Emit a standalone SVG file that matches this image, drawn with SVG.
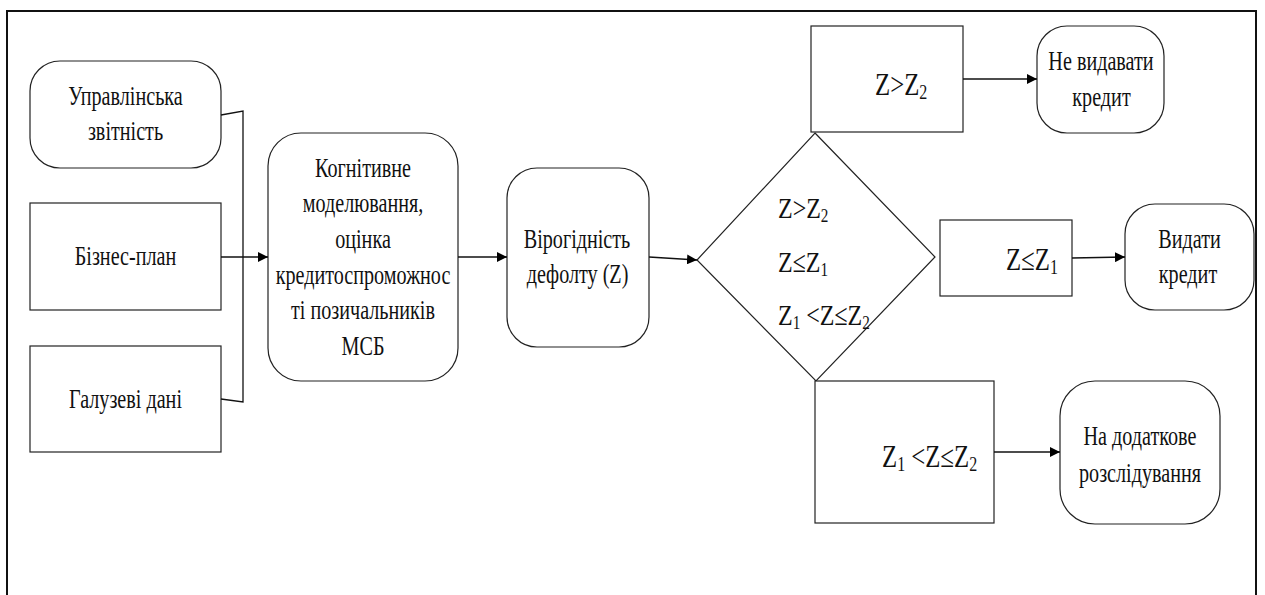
<svg xmlns="http://www.w3.org/2000/svg" width="1265" height="595" viewBox="0 0 1265 595">
<defs>
<style>
.nd{fill:#fff;stroke:#222;stroke-width:1.2}
.cn{fill:none;stroke:#111;stroke-width:1.3}
</style>
<marker id="ah" viewBox="0 0 10 10" refX="10" refY="5" markerWidth="10" markerHeight="10" markerUnits="userSpaceOnUse" orient="auto">
<path d="M0,0 L10,5 L0,10 z" fill="#000"/>
</marker>
</defs>
<rect width="1265" height="595" fill="#fff"/>
<path d="M7,600 V11 H1256 V600" fill="none" stroke="#111" stroke-width="2"/>

<g id="n-upr">
<rect class="nd" x="30" y="61" width="191" height="107" rx="30"/>
<text font-family="'Liberation Serif'" font-size="28" fill="#111" text-anchor="middle" transform="matrix(0.72 0 0 1 125.5 105)">Управлінська</text>
<text font-family="'Liberation Serif'" font-size="28" fill="#111" text-anchor="middle" transform="matrix(0.72 0 0 1 125.5 140)">звітність</text>
</g>
<g id="n-biz">
<rect class="nd" x="30" y="203" width="191" height="107"/>
<text font-family="'Liberation Serif'" font-size="28" fill="#111" text-anchor="middle" transform="matrix(0.72 0 0 1 125.5 265)">Бізнес-план</text>
</g>
<g id="n-gal">
<rect class="nd" x="30" y="346" width="191" height="106"/>
<text font-family="'Liberation Serif'" font-size="28" fill="#111" text-anchor="middle" transform="matrix(0.72 0 0 1 125.5 408)">Галузеві дані</text>
</g>
<g id="n-cog">
<rect class="nd" x="268" y="133" width="190" height="248" rx="33"/>
<text font-family="'Liberation Serif'" font-size="28" fill="#111" text-anchor="middle" transform="matrix(0.72 0 0 1 363 176.5)">Когнітивне</text>
<text font-family="'Liberation Serif'" font-size="28" fill="#111" text-anchor="middle" transform="matrix(0.72 0 0 1 363 212)">моделювання,</text>
<text font-family="'Liberation Serif'" font-size="28" fill="#111" text-anchor="middle" transform="matrix(0.72 0 0 1 363 248)">оцінка</text>
<text font-family="'Liberation Serif'" font-size="28" fill="#111" text-anchor="middle" transform="matrix(0.72 0 0 1 363 284)">кредитоспроможнос</text>
<text font-family="'Liberation Serif'" font-size="28" fill="#111" text-anchor="middle" transform="matrix(0.72 0 0 1 363 319)">ті позичальників</text>
<text font-family="'Liberation Serif'" font-size="28" fill="#111" text-anchor="middle" transform="matrix(0.72 0 0 1 363 355)">МСБ</text>
</g>
<g id="n-vir">
<rect class="nd" x="507" y="168" width="142" height="179" rx="30"/>
<text font-family="'Liberation Serif'" font-size="28" fill="#111" text-anchor="middle" transform="matrix(0.72 0 0 1 577 248)">Вірогідність</text>
<text font-family="'Liberation Serif'" font-size="28" fill="#111" text-anchor="middle" transform="matrix(0.72 0 0 1 577.5 283)">дефолту (Z)</text>
</g>
<g id="n-dia">
<polygon class="nd" points="815,133 935,257 816,381 697,260"/>
<text font-family="'Liberation Serif'" font-size="30" fill="#111" transform="matrix(0.8 0 0 1 778 218)">Z&gt;Z<tspan font-size="19" dy="4">2</tspan></text>
<text font-family="'Liberation Serif'" font-size="30" fill="#111" transform="matrix(0.8 0 0 1 778 272)">Z≤Z<tspan font-size="19" dy="4">1</tspan></text>
<text font-family="'Liberation Serif'" font-size="30" fill="#111" transform="matrix(0.8 0 0 1 778 325)">Z<tspan font-size="19" dy="4">1</tspan><tspan dy="-4"> &lt;Z≤Z</tspan><tspan font-size="19" dy="4">2</tspan></text>
</g>
<g id="n-zgt">
<rect class="nd" x="811" y="26" width="152" height="106"/>
<text font-family="'Liberation Serif'" font-size="31" fill="#111" transform="matrix(0.8 0 0 1 875 95)">Z&gt;Z<tspan font-size="20" dy="4">2</tspan></text>
</g>
<g id="n-ne">
<rect class="nd" x="1037" y="26" width="127" height="107" rx="30"/>
<text font-family="'Liberation Serif'" font-size="28" fill="#111" text-anchor="middle" transform="matrix(0.72 0 0 1 1101 70)">Не видавати</text>
<text font-family="'Liberation Serif'" font-size="28" fill="#111" text-anchor="middle" transform="matrix(0.72 0 0 1 1101.5 106)">кредит</text>
</g>
<g id="n-zle">
<rect class="nd" x="940" y="220" width="132" height="76"/>
<text font-family="'Liberation Serif'" font-size="31" fill="#111" transform="matrix(0.8 0 0 1 1006 270)">Z≤Z<tspan font-size="20" dy="4">1</tspan></text>
</g>
<g id="n-vyd">
<rect class="nd" x="1125" y="204" width="129" height="106" rx="30"/>
<text font-family="'Liberation Serif'" font-size="28" fill="#111" text-anchor="middle" transform="matrix(0.72 0 0 1 1189.5 248)">Видати</text>
<text font-family="'Liberation Serif'" font-size="28" fill="#111" text-anchor="middle" transform="matrix(0.72 0 0 1 1188 283)">кредит</text>
</g>
<g id="n-zmid">
<rect class="nd" x="815" y="381" width="179" height="142"/>
<text font-family="'Liberation Serif'" font-size="31" fill="#111" transform="matrix(0.8 0 0 1 882 467)">Z<tspan font-size="20" dy="4">1</tspan><tspan dy="-4"> &lt;Z≤Z</tspan><tspan font-size="20" dy="4">2</tspan></text>
</g>
<g id="n-dod">
<rect class="nd" x="1060" y="381" width="160" height="143" rx="35"/>
<text font-family="'Liberation Serif'" font-size="28" fill="#111" text-anchor="middle" transform="matrix(0.72 0 0 1 1140 445)">На додаткове</text>
<text font-family="'Liberation Serif'" font-size="28" fill="#111" text-anchor="middle" transform="matrix(0.72 0 0 1 1140 482)">розслідування</text>
</g>

<g id="connectors">
<path class="cn" d="M221,115 L243,111 V402 L221,399"/>
<line class="cn" x1="221" y1="257" x2="268" y2="257" marker-end="url(#ah)"/>
<line class="cn" x1="458" y1="257" x2="507" y2="257" marker-end="url(#ah)"/>
<line class="cn" x1="649" y1="257" x2="697" y2="260" marker-end="url(#ah)"/>
<line class="cn" x1="963" y1="79" x2="1037" y2="79" marker-end="url(#ah)"/>
<line class="cn" x1="1072" y1="258" x2="1125" y2="257" marker-end="url(#ah)"/>
<line class="cn" x1="994" y1="452" x2="1060" y2="452" marker-end="url(#ah)"/>
</g>
</svg>
